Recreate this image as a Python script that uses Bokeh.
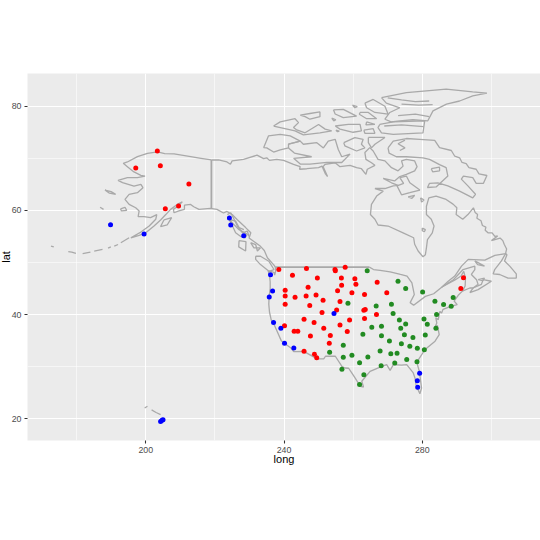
from bokeh.plotting import figure
from bokeh.models import Range1d, FixedTicker
from bokeh.embed import file_html
from bokeh.resources import INLINE

red_long = [238.5,246.5,254.75,254.85,257.7,242.45,249.65,256.6,260.5,260.8,256.67,266.95,246.97,255.5,240.34,240.34,240.34,243.2,246.4,249.27,251.3,259.65,263.3,269.73,256.2,247.45,255.23,251.0,263.5,263.1,266.75,245.8,258.97,263.3,248.7,256.2,240.15,251.5,242.93,243.99,258.3,253.4,247.64,253.1,245.8,248.8,249.46,291.92,291.15,203.36,197.12,204.23,212.49,205.67,209.5]
red_lat = [48.65,48.85,48.65,48.4,49.1,47.56,47.0,47.0,46.86,45.83,45.64,46.2,45.26,44.6,44.68,43.59,42.0,43.33,43.59,43.78,42.76,44.17,43.85,44.17,42.5,41.73,40.9,40.38,40.96,40.83,40.0,39.1,38.97,39.23,38.46,38.0,37.88,37.37,36.8,36.8,36.73,36.0,35.9,34.5,32.95,32.37,31.73,47.05,45.0,71.41,68.14,68.59,65.07,60.32,60.84]

blue_long = [236.1,236.7,235.73,236.98,239.09,240.15,242.84,254.46,279.24,278.57,278.67,189.82,199.52,224.2,224.59,228.34,204.3,204.7,205.0]
blue_lat = [47.63,44.55,43.4,38.46,37.37,34.49,33.59,40.19,28.72,27.3,26.03,57.25,55.45,58.53,57.18,55.13,19.5,19.7,19.8]

green_long = [264.07,272.98,275.2,258.5,266.66,271.08,271.56,273.38,275.2,265.4,268.2,273.77,262.82,268.2,274.83,270.5,273.96,276.4,257.15,267.8,270.9,272.7,275.5,253.2,257.15,259.65,264.26,261.86,268.1,272.04,256.76,263.1,261.86,280.1,283.66,286.16,288.94,288.37,284.14,280.49,281.45,283.95,280.87,277.3,278.57,280.6,278.47]
green_lat = [48.4,46.41,45.0,42.18,41.67,41.99,40.19,38.97,38.2,37.56,37.76,37.37,36.22,35.96,36.15,34.94,34.42,33.9,34.1,33.0,32.5,32.56,31.4,32.76,31.8,32.18,31.86,30.77,30.2,30.7,29.49,28.46,26.6,44.36,42.56,41.92,43.27,41.6,40.0,39.17,38.14,37.37,36.09,35.58,33.53,33.27,30.96]

x_major = [200, 240, 280]
x_minor = [180, 220, 260, 300]
y_major = [20, 40, 60, 80]
y_minor = [30, 50, 70]

alaska = [(219.0,69.68),(216,70),(213,70.32),(208.2,70.84),(205.5,70.9),(203.4,71.22),(200.5,70.96),(197.6,70.32),(194.7,69.3),(193.5,69.04),(194.7,68.4),(196.6,67.38),(198.6,66.73),(199.8,66.6),(197.6,66.3),(194.7,66.3),(192,65.77),(193.3,65.32),(196.6,64.68),(198.6,65),(199.2,64.36),(197.6,63.4),(195.2,63.08),(194,62.12),(195.2,61.16),(197.1,60.5),(198.1,59.9),(197.8,58.8),(199.5,58.8),(201.4,58.6),(203.2,59.2),(202.9,58.3),(201,57),(198.6,55.84),(195.7,54.75),(198.1,55.2),(200,55.7),(202.4,57),(204.3,58.15),(205.8,59.2),(207.2,60.2),(209.1,61.15),(210.6,61.65),(209.1,60.7),(208,60.2),(208.2,59.55),(209.6,59.9),(211.2,60.2),(211.2,61),(213,61.15),(213.9,60.7),(215.4,60.2),(218.7,60.4),(220.6,60.2),(222.5,59.5),(223.5,59.8),(225,59.2),(226.5,58.2),(228.9,56.7),(230.4,55.7),(229.9,54.7),(231.8,53.8),(233.2,53.1),(234.3,52.3),(235.2,50.9),(237.1,49.5),(237.5,49.1)]
canada_north = [(219.0,69.68),(221.1,69.68),(223.5,69.3),(224.5,68.85),(225,69.5),(228.3,69.8),(232.2,70.6),(234.1,69.93),(235,70.1),(235.8,69.6),(237.9,69.8),(239.9,69.6),(242.75,68.85),(244.67,68.4),(244.5,67.9),(246.6,68),(250,68.2),(251,68.5),(252,67),(252.6,66.5),(251.3,68.4),(251.9,68.85),(254.8,69.15),(256.2,68.4),(259.1,68.65),(261,68.2),(262.4,68),(263.7,66.9),(264.1,67.9),(266.3,68.65),(265.3,69.15),(263.7,69.8),(263.4,71.1),(264.8,72.05),(265.8,71.4),(267.2,69.8),(269.2,69.5),(271.1,68.2),(273,67.6),(274.45,68.5),(274,69.5),(275.4,69.8),(277.8,69.5),(278.5,68.4),(277.8,67.6),(275.4,66.9),(273.5,66.5),(272,65.65),(268.7,66.15),(271.1,65.3),(273,64.8),(271.6,64.7),(269.2,64.2),(266.3,64.2),(268.7,63.7),(266.8,62.75),(265.3,61.15),(265,59.2),(266.3,58.3),(267.2,57.2),(270.1,57),(274.45,55.7),(277.5,54.75),(277.8,53.5),(278.8,52.2),(280.2,51.1),(280.9,51.5),(281.2,52.8),(281.5,54.4),(282.9,55.7),(283.4,57),(282.6,58.3),(281.2,59.2),(281.2,60.8),(281.9,62.4),(284,62.75),(286.9,62.1),(288.9,61.2),(290,60.5),(289.8,59.2),(291.7,58.3),(293.2,59.2),(294.8,60.5),(295.3,59.6),(296,59.2),(295.8,58.5),(297,58),(297.4,57.1),(298.4,56.8),(298.2,56.2),(299,55.7),(300.2,55.7),(301,55),(301.8,55.1),(300,54.2),(302.5,54.7),(303.3,54.2),(303.7,53.5),(304.4,52.6),(304.1,51.7),(301,51.35),(298.1,50.45),(293.3,50.6),(291.35,49.3),(289.4,47.4),(287.5,46.4),(285.7,45.3)]
gaspe_maine = [(285.7,45.3),(289,46.7),(291.8,48.65),(295.2,49.3),(295.2,48.65),(294.2,47.7),(295.7,46.7),(296.15,45.8),(294.7,45.1),(293.75,45.1),(291.6,44.5),(290.4,43.7),(289.2,42.6),(290.1,41.9),(289,41.7),(287.5,41.4),(286,41),(285.6,40.3),(285.1,40.6),(284.6,39),(283.9,39.4),(284.2,38.4),(283.7,37.6),(284.4,37.9),(284.9,36.15),(283.7,34.9),(280.8,33.3),(278.9,31.35),(278.6,30.4),(279.15,29.1),(279.8,25.9),(279.3,24.8),(278.2,26.5),(277.9,27.8),(277.4,28.8),(275.5,30.4),(274,30.3),(271.65,30.4),(270.7,29.3),(269.7,30.4),(267.8,29.9),(264.9,29.1),(262.5,27.2),(263,26.1),(262.1,26.2),(260.6,27.8),(259.6,28.8),(258.7,29.7),(257.7,29.75),(256.8,30),(254.85,32),(252,32),(251.5,31.5),(249.6,31.5),(245.7,32.95),(242.8,32.9),(242,33.6),(240.5,34.3),(239.2,35),(238,36.8),(237.2,38),(236.3,39),(235.8,40.5),(235.6,42),(235.7,43.5),(236,45),(236,46.3),(235.8,47.6),(235.4,48.4),(236.6,48.2),(237.1,48.1),(237.3,47.6),(237.6,48.4),(237.5,49.1)]
lakes_border = [(264.7,49.1),(265.9,48.65),(267.8,48.5),(270.7,48.2),(273.7,47.7),(275.6,47.4),(277,46.1),(277.7,43.85),(276.5,42.3),(277.5,41.8),(280.9,43.5),(283.3,44),(285.7,45.3),(289.6,46.7),(291.2,47.4),(292,48.3),(292.5,47),(292.4,45.5),(291.6,44.5)]
banks = [(234.1,72.05),(235.5,74.3),(238.9,74.6),(241.8,74.3),(244.7,73.3),(241.3,72.7),(241.3,72),(238.9,71.6),(237,71.2),(235,72),(234.1,72.05)]
victoria = [(241.3,72.7),(244.7,73.3),(245.6,72.7),(249.5,73),(251.4,72),(252.8,73.3),(254.8,73.65),(255.7,71.7),(256.7,70.3),(259.1,70.8),(256.7,69.2),(252.4,69.2),(247.5,68.9),(244.7,68.9),(242.8,70),(248,70.3),(243,71),(241.3,72)]
pow_island = [(257.3,73),(260.5,73.97),(262.9,73.65),(262.4,72.7),(263.4,72),(261,71.4),(257.6,72.4),(257.3,73)]
somerset = [(264.4,74),(269.2,74),(266.3,72.7),(265.3,72),(264.4,73),(264.4,74)]
melville = [(236.98,76.2),(238.9,77),(243.2,77.6),(244.2,76.85),(242.75,75.9),(243.7,75.45),(246.1,74.9),(250,76.5),(251.9,75.6),(253.8,75.25),(250.4,74.9),(245.6,74.5),(243.2,75.25),(236.98,76.2)]
patrick = [(244.7,78.3),(247.5,78.6),(250.4,78.9),(250.4,78),(247.5,77.5),(246.1,78),(244.7,78.3)]
ringnes = [(254.3,79.3),(257.15,79.4),(261,78.1),(257.15,77.8),(254.8,78.5),(254.3,79.3)]
meighen = [(259.8,80.2),(261.2,79.9),(260.5,79.7),(259.8,80.2)]
amund = [(262,78.8),(264.4,78.8),(266.8,77.6),(263.9,77.6),(261.8,78.45),(262,78.8)]
bathurst = [(254.8,76.2),(258.6,76.5),(262,76.5),(262.4,75.25),(260,75),(256.2,75.6),(254.8,76.2)]
byam = [(255,75.4),(256,75.2),(255.5,75.1),(255,75.4)]
lougheed = [(253.8,77.7),(255,77.4),(254.4,77.2),(253.8,77.7)]
grinnell = [(263.9,77),(266.3,76.5),(263.7,76.4),(263.9,77)]
cornwallis = [(263.1,75.4),(265.8,75.7),(266.3,74.8),(263.4,74.8),(263.1,75.4)]
devon = [(267.7,76.5),(271.6,77),(280.7,77.2),(280.2,74.9),(271.6,74.6),(268.2,74.9),(267.2,75.9),(267.7,76.5)]
devon_inner = [(269,76.2),(274,76.4),(280.4,76.1)]
ellesmere = [(268.2,81.66),(275.4,82.6),(281.2,82.95),(286.9,83.27),(294.6,82.76),(298.7,82.5),(294.6,82),(290.8,81),(287,80.4),(283.1,79.1),(281.6,77.2),(277.3,77.4),(273.5,77.2),(271,77),(269.2,77.5),(270.6,78.8),(273.5,79.7),(269.6,80.6),(268.2,81.66)]
fjord_a = [(270,81.6),(274,81.2),(278,80.9),(282,81)]
fjord_b = [(274,80.4),(279,80.2),(283,80.3)]
fjord_c = [(273,78.2),(278,78.5),(282,78)]
axel = [(263.4,80.6),(265.8,81.3),(269.2,80),(270.1,78.5),(266.3,78.8),(263.9,79.7),(263.4,80.6)]
baffin = [(270.1,72),(271.6,73.3),(275.4,73.8),(279.25,73.65),(283.6,73.45),(285,72.05),(288.4,71.5),(289.4,70.4),(290.8,70.1),(291.5,69.2),(292.7,69),(293.5,68.2),(295.6,67.9),(296.4,67),(298.7,66.7),(297.7,65.2),(295.6,65.2),(294.6,66.3),(291.9,66.6),(291.3,66),(293.2,64.7),(295.4,63.1),(294.6,62.4),(290.8,63.7),(287.4,64.7),(284.5,65.3),(282.1,65.2),(281.5,64.4),(284,64.5),(287.4,66.6),(286.9,68.2),(285,68.8),(282.1,69.8),(280.2,70.1),(275.4,70.3),(272.5,70.3),(270.4,71),(270.1,72)]
brodeur = [(275,73.5),(273,72.8),(275,72),(273.5,71.5)]
charles = [(282.6,68),(285,68.3),(285,67.6),(283,67.4),(282.6,68)]
southampton = [(273.5,66.3),(275.4,66.6),(276.4,65.3),(279.3,63.9),(276.4,63.4),(274,63),(272.7,64.7),(274.6,65.2),(273.5,66.3)]
coats = [(275.9,62.6),(277.8,62.9),(277,62.3),(275.9,62.6)]
mansel = [(279.5,62.4),(280.5,62),(279.8,61.6),(279.5,62.4)]
belcher = [(280,56.6),(280.9,56.3),(280.6,55.9),(280,56.1),(280,56.6)]
newfoundland = [(304.1,51.7),(302.9,50.3),(300.95,48.65),(300.5,47.8),(302.4,47.7),(304.8,47),(307.2,47),(307.2,47.8),(305.3,49.3),(303.8,50.3),(304.5,51.5),(304.1,51.7)]
anticosti = [(295.2,50.3),(298,49.3),(296,49.6),(295.2,50.3)]
nova_scotia = [(293.75,44.2),(296.15,44.8),(300,46.4),(297.6,46.7),(297.1,45.8),(294.7,45.1),(293.75,44.2)]
pei = [(296.15,46.7),(298,47),(297.5,46.5),(296.15,46.7)]
nunivak = [(192.7,60.3),(194,60.6),(194.5,60.0),(193,59.9),(192.7,60.3)]
st_lawrence = [(188.2,63.9),(190,63.6),(191.3,63.1),(189.5,63.3),(188.2,63.9)]
st_matthew = [(186.8,60.6),(187.8,60.2)]
kodiak = [(205.3,58.2),(207.5,58.6),(206.2,57.2),(204.3,56.9),(205.3,58.2)]
aleut_a = [(195.2,54.75),(192.8,53.8)]
aleut_b = [(192,53.45),(190.9,53.15)]
aleut_c = [(189.9,53),(189.1,52.75)]
aleut_d = [(187.5,52.5),(185.1,52.2)]
aleut_e = [(184,52),(181.75,51.7)]
aleut_f = [(179.8,51.75),(178.6,52),(177.6,52.1)]
aleut_g = [(173.4,53),(172.6,53.15)]
pan_a = [(223.6,59.2),(224.6,59.55),(225.55,58.3),(226.5,57),(228,55.7),(229.4,56),(229.9,55)]
pan_b = [(224.1,58.3),(225.1,57),(226,55.7),(227.5,55),(228.7,54.7),(229.4,55.4),(227,56.3),(225.5,57.3),(224.1,58.3),(226,57.95),(227,56.7),(228.4,56.3)]
charlotte = [(227,54.2),(226.9,53),(228.9,52.2),(229,54),(227,54.2)]
bc_isles = [(230.35,53.8),(231.8,53.45),(232.3,52.2),(233.2,52.8),(231.3,52.8),(230.35,53.8)]
vancouver = [(231.8,51.2),(233.2,51.2),(235.6,50.25),(237.1,48.65),(235.65,48.3),(233.2,49.6),(231.8,50.6),(231.8,51.2)]
hawaii_a = [(199.7,22.06),(200.5,22.4)]
hawaii_b = [(201.7,21.7),(203,21.2),(204.3,20.8)]
alaska_border = [(219.0,69.68),(219.0,60.35)]
parallel_49 = [(237.5,49.1),(264.7,49.1)]

thin_lines = [alaska,canada_north,gaspe_maine,lakes_border,banks,victoria,pow_island,somerset,melville,patrick,ringnes,meighen,amund,bathurst,byam,lougheed,grinnell,cornwallis,devon,devon_inner,ellesmere,fjord_a,fjord_b,fjord_c,axel,baffin,brodeur,charles,southampton,coats,mansel,belcher,newfoundland,anticosti,nova_scotia,pei,nunivak,st_lawrence,st_matthew,kodiak,aleut_a,aleut_b,aleut_c,aleut_d,aleut_e,aleut_f,aleut_g,pan_a,pan_b,charlotte,bc_isles,vancouver,hawaii_a,hawaii_b]
thick_lines = [alaska_border, parallel_49]

p = figure(width=548, height=508, output_backend="svg", toolbar_location=None,
           x_range=Range1d(165.8, 314.2), y_range=Range1d(15.83, 86.28),
           frame_width=513, frame_height=367,
           min_border_left=35, min_border_right=0, min_border_top=81, min_border_bottom=60,
           background_fill_color="#EBEBEB", border_fill_color="white")
p.margin = (-8, 0, 0, -8)
p.outline_line_color = None

p.xaxis.ticker = FixedTicker(ticks=x_major, minor_ticks=x_minor)
p.yaxis.ticker = FixedTicker(ticks=y_major, minor_ticks=y_minor)
for g in (p.xgrid, p.ygrid):
    g.grid_line_color = "white"
    g.grid_line_width = 1.1
    g.minor_grid_line_color = "white"
    g.minor_grid_line_width = 0.55
for ax in (p.xaxis, p.yaxis):
    ax.axis_line_color = None
    ax.major_tick_line_color = "#333333"
    ax.major_tick_line_width = 1.07
    ax.major_tick_out = 3
    ax.major_tick_in = 0
    ax.minor_tick_line_color = None
    ax.major_label_text_color = "#4D4D4D"
    ax.major_label_text_font = "Liberation Sans"
    ax.major_label_text_font_size = "8.8px"
    ax.axis_label_text_font = "Liberation Sans"
    ax.axis_label_text_font_style = "normal"
    ax.axis_label_text_font_size = "11px"
    ax.axis_label_text_color = "black"
p.xaxis.major_label_standoff = 2
p.yaxis.major_label_standoff = 2
p.xaxis.axis_label = "long"
p.yaxis.axis_label = "lat"
p.xaxis.axis_label_standoff = -3
p.yaxis.axis_label_standoff = -3

p.multi_line([[q[0] for q in s] for s in thin_lines], [[q[1] for q in s] for s in thin_lines],
             line_color="#A9A9A9", line_width=1.3)
p.multi_line([[q[0] for q in s] for s in thick_lines], [[q[1] for q in s] for s in thick_lines],
             line_color="#A9A9A9", line_width=1.8)

for lo, la, col in ((red_long, red_lat, "red"), (blue_long, blue_lat, "blue"), (green_long, green_lat, "#228B22")):
    p.scatter(lo, la, size=5, color=col, line_color=None)

open("out.html", "w").write(file_html(p, INLINE))
